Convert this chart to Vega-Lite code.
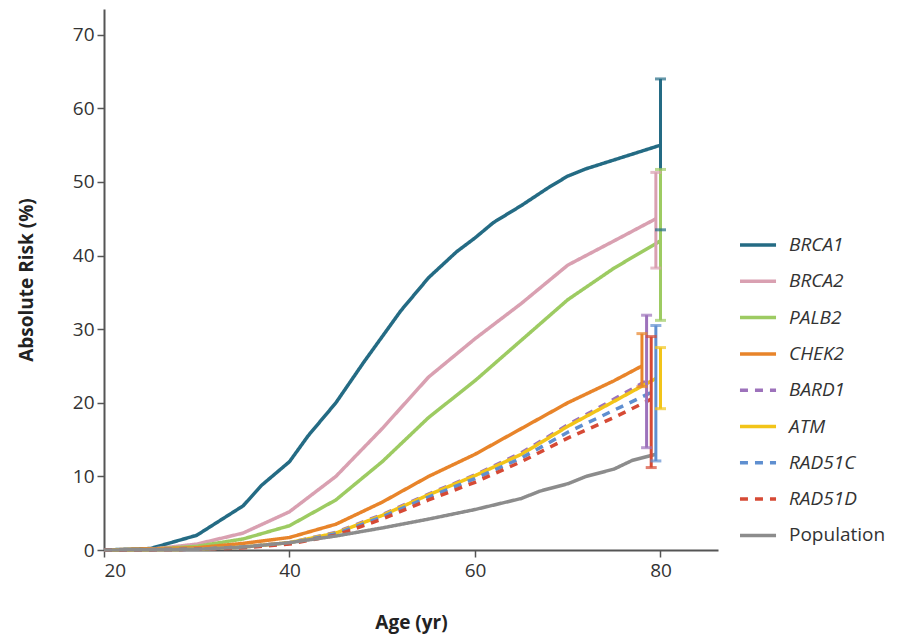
{
  "$schema": "https://vega.github.io/schema/vega-lite/v6.json",
  "width": 614,
  "height": 541,
  "autosize": {"type": "none"},
  "padding": {"left": 104, "top": 9, "right": 182, "bottom": 89},
  "background": "white",
  "config": {
    "view": {"stroke": null},
    "font": "Open Sans",
    "axis": {"grid": false, "domainColor": "#555555", "domainWidth": 2, "tickColor": "#555555", "tickWidth": 1.5, "tickSize": 7, "labelFontSize": 19, "labelColor": "#333333", "titleFontSize": 19, "titleColor": "#222222", "titleFontWeight": "bold"}
  },
  "datasets": {
    "curves": [
      {"gene": "BRCA1", "age": 20, "risk": 0}, {"gene": "BRCA1", "age": 25, "risk": 0.2}, {"gene": "BRCA1", "age": 30, "risk": 2}, {"gene": "BRCA1", "age": 35, "risk": 6}, {"gene": "BRCA1", "age": 37, "risk": 8.8}, {"gene": "BRCA1", "age": 40, "risk": 12}, {"gene": "BRCA1", "age": 42, "risk": 15.5}, {"gene": "BRCA1", "age": 45, "risk": 20}, {"gene": "BRCA1", "age": 48, "risk": 25.5}, {"gene": "BRCA1", "age": 50, "risk": 29}, {"gene": "BRCA1", "age": 52, "risk": 32.5}, {"gene": "BRCA1", "age": 55, "risk": 37}, {"gene": "BRCA1", "age": 58, "risk": 40.5}, {"gene": "BRCA1", "age": 60, "risk": 42.4}, {"gene": "BRCA1", "age": 62, "risk": 44.5}, {"gene": "BRCA1", "age": 65, "risk": 46.8}, {"gene": "BRCA1", "age": 68, "risk": 49.3}, {"gene": "BRCA1", "age": 70, "risk": 50.8}, {"gene": "BRCA1", "age": 72, "risk": 51.8}, {"gene": "BRCA1", "age": 75, "risk": 53}, {"gene": "BRCA1", "age": 78, "risk": 54.2}, {"gene": "BRCA1", "age": 80, "risk": 55},
      {"gene": "BRCA2", "age": 20, "risk": 0}, {"gene": "BRCA2", "age": 25, "risk": 0.1}, {"gene": "BRCA2", "age": 30, "risk": 0.8}, {"gene": "BRCA2", "age": 35, "risk": 2.3}, {"gene": "BRCA2", "age": 40, "risk": 5.2}, {"gene": "BRCA2", "age": 45, "risk": 10}, {"gene": "BRCA2", "age": 50, "risk": 16.5}, {"gene": "BRCA2", "age": 55, "risk": 23.5}, {"gene": "BRCA2", "age": 60, "risk": 28.7}, {"gene": "BRCA2", "age": 65, "risk": 33.5}, {"gene": "BRCA2", "age": 70, "risk": 38.7}, {"gene": "BRCA2", "age": 75, "risk": 42}, {"gene": "BRCA2", "age": 79.5, "risk": 45},
      {"gene": "PALB2", "age": 20, "risk": 0}, {"gene": "PALB2", "age": 25, "risk": 0.1}, {"gene": "PALB2", "age": 30, "risk": 0.5}, {"gene": "PALB2", "age": 35, "risk": 1.5}, {"gene": "PALB2", "age": 40, "risk": 3.3}, {"gene": "PALB2", "age": 45, "risk": 6.8}, {"gene": "PALB2", "age": 50, "risk": 12}, {"gene": "PALB2", "age": 55, "risk": 18}, {"gene": "PALB2", "age": 60, "risk": 23}, {"gene": "PALB2", "age": 65, "risk": 28.5}, {"gene": "PALB2", "age": 70, "risk": 34}, {"gene": "PALB2", "age": 75, "risk": 38.3}, {"gene": "PALB2", "age": 80, "risk": 42},
      {"gene": "CHEK2", "age": 20, "risk": 0}, {"gene": "CHEK2", "age": 30, "risk": 0.3}, {"gene": "CHEK2", "age": 35, "risk": 0.9}, {"gene": "CHEK2", "age": 40, "risk": 1.7}, {"gene": "CHEK2", "age": 45, "risk": 3.5}, {"gene": "CHEK2", "age": 50, "risk": 6.5}, {"gene": "CHEK2", "age": 55, "risk": 10}, {"gene": "CHEK2", "age": 60, "risk": 13}, {"gene": "CHEK2", "age": 65, "risk": 16.5}, {"gene": "CHEK2", "age": 70, "risk": 20}, {"gene": "CHEK2", "age": 75, "risk": 23}, {"gene": "CHEK2", "age": 78, "risk": 25},
      {"gene": "BARD1", "age": 20, "risk": 0}, {"gene": "BARD1", "age": 30, "risk": 0.1}, {"gene": "BARD1", "age": 35, "risk": 0.4}, {"gene": "BARD1", "age": 40, "risk": 1.0}, {"gene": "BARD1", "age": 45, "risk": 2.4}, {"gene": "BARD1", "age": 50, "risk": 4.8}, {"gene": "BARD1", "age": 55, "risk": 7.6}, {"gene": "BARD1", "age": 60, "risk": 10.2}, {"gene": "BARD1", "age": 65, "risk": 13.2}, {"gene": "BARD1", "age": 70, "risk": 17}, {"gene": "BARD1", "age": 75, "risk": 20.5}, {"gene": "BARD1", "age": 78.5, "risk": 23},
      {"gene": "ATM", "age": 20, "risk": 0}, {"gene": "ATM", "age": 30, "risk": 0.1}, {"gene": "ATM", "age": 35, "risk": 0.4}, {"gene": "ATM", "age": 40, "risk": 1.0}, {"gene": "ATM", "age": 45, "risk": 2.3}, {"gene": "ATM", "age": 50, "risk": 4.7}, {"gene": "ATM", "age": 55, "risk": 7.5}, {"gene": "ATM", "age": 60, "risk": 10.1}, {"gene": "ATM", "age": 65, "risk": 13}, {"gene": "ATM", "age": 70, "risk": 16.8}, {"gene": "ATM", "age": 75, "risk": 20.2}, {"gene": "ATM", "age": 79.5, "risk": 23.3},
      {"gene": "RAD51C", "age": 20, "risk": 0}, {"gene": "RAD51C", "age": 30, "risk": 0.1}, {"gene": "RAD51C", "age": 35, "risk": 0.4}, {"gene": "RAD51C", "age": 40, "risk": 0.9}, {"gene": "RAD51C", "age": 45, "risk": 2.2}, {"gene": "RAD51C", "age": 50, "risk": 4.5}, {"gene": "RAD51C", "age": 55, "risk": 7.2}, {"gene": "RAD51C", "age": 60, "risk": 9.7}, {"gene": "RAD51C", "age": 65, "risk": 12.5}, {"gene": "RAD51C", "age": 70, "risk": 16}, {"gene": "RAD51C", "age": 75, "risk": 19}, {"gene": "RAD51C", "age": 79.5, "risk": 21.7},
      {"gene": "RAD51D", "age": 20, "risk": 0}, {"gene": "RAD51D", "age": 30, "risk": 0.1}, {"gene": "RAD51D", "age": 35, "risk": 0.3}, {"gene": "RAD51D", "age": 40, "risk": 0.8}, {"gene": "RAD51D", "age": 45, "risk": 2.0}, {"gene": "RAD51D", "age": 50, "risk": 4.2}, {"gene": "RAD51D", "age": 55, "risk": 6.8}, {"gene": "RAD51D", "age": 60, "risk": 9.2}, {"gene": "RAD51D", "age": 65, "risk": 12}, {"gene": "RAD51D", "age": 70, "risk": 15.2}, {"gene": "RAD51D", "age": 75, "risk": 18}, {"gene": "RAD51D", "age": 79, "risk": 20.5},
      {"gene": "Population", "age": 20, "risk": 0}, {"gene": "Population", "age": 30, "risk": 0.1}, {"gene": "Population", "age": 35, "risk": 0.4}, {"gene": "Population", "age": 40, "risk": 1.0}, {"gene": "Population", "age": 45, "risk": 1.9}, {"gene": "Population", "age": 50, "risk": 3.0}, {"gene": "Population", "age": 55, "risk": 4.2}, {"gene": "Population", "age": 60, "risk": 5.5}, {"gene": "Population", "age": 65, "risk": 7}, {"gene": "Population", "age": 67, "risk": 8}, {"gene": "Population", "age": 70, "risk": 9}, {"gene": "Population", "age": 72, "risk": 10}, {"gene": "Population", "age": 75, "risk": 11}, {"gene": "Population", "age": 77, "risk": 12.2}, {"gene": "Population", "age": 79.5, "risk": 13}
    ],
    "intervals": [
      {"gene": "BRCA1", "bar_age": 80, "lo": 43.5, "hi": 64},
      {"gene": "BRCA2", "bar_age": 79.5, "lo": 38.3, "hi": 51.3},
      {"gene": "PALB2", "bar_age": 80, "lo": 31.2, "hi": 51.7},
      {"gene": "CHEK2", "bar_age": 78, "lo": 22.2, "hi": 29.4},
      {"gene": "BARD1", "bar_age": 78.5, "lo": 13.9, "hi": 31.9},
      {"gene": "ATM", "bar_age": 80, "lo": 19.2, "hi": 27.5},
      {"gene": "RAD51C", "bar_age": 79.5, "lo": 12.1, "hi": 30.5},
      {"gene": "RAD51D", "bar_age": 79, "lo": 11.2, "hi": 29.0}
    ]
  },
  "layer": [
    {
      "data": {"name": "curves"},
      "mark": {"type": "line", "strokeWidth": 3.5},
      "encoding": {
        "x": {"field": "age", "type": "quantitative", "scale": {"domain": [20, 86.2], "nice": false}, "axis": {"values": [20, 40, 60, 80], "title": "Age (yr)", "titlePadding": 33, "labelPadding": 4}},
        "y": {"field": "risk", "type": "quantitative", "scale": {"domain": [0, 73.5], "nice": false}, "axis": {"values": [0, 10, 20, 30, 40, 50, 60, 70], "title": "Absolute Risk (%)", "titlePadding": 36, "labelPadding": 3}},
        "color": {"field": "gene", "type": "nominal",
          "scale": {"domain": ["BRCA1", "BRCA2", "PALB2", "CHEK2", "BARD1", "ATM", "RAD51C", "RAD51D", "Population"], "range": ["#246b84", "#d9a0b1", "#9dcb62", "#e8842a", "#9d72bb", "#f2c419", "#5f8fd0", "#d64a35", "#8c8c8c"]},
          "legend": {"title": null, "orient": "none", "legendX": 634, "legendY": 216, "symbolType": "stroke", "symbolSize": 1300, "symbolStrokeWidth": 3.5, "labelFontSize": 19, "labelColor": "#333333", "rowPadding": 6.3, "labelOffset": 11,
            "encode": {"labels": {"update": {"fontStyle": {"signal": "datum.label == 'Population' ? 'normal' : 'italic'"}}}}}},
        "strokeDash": {"field": "gene", "type": "nominal",
          "scale": {"domain": ["BRCA1", "BRCA2", "PALB2", "CHEK2", "BARD1", "ATM", "RAD51C", "RAD51D", "Population"], "range": [[1, 0], [1, 0], [1, 0], [1, 0], [8, 7], [1, 0], [8, 7], [8, 7], [1, 0]]}},
        "order": {"field": "age", "type": "quantitative"}
      }
    },
    {
      "data": {"name": "intervals"},
      "mark": {"type": "rule", "strokeWidth": 3},
      "encoding": {
        "x": {"field": "bar_age", "type": "quantitative"},
        "y": {"field": "lo", "type": "quantitative"},
        "y2": {"field": "hi"},
        "color": {"field": "gene", "type": "nominal", "legend": null}
      }
    },
    {
      "data": {"name": "intervals"},
      "mark": {"type": "tick", "orient": "horizontal", "size": 11, "thickness": 3},
      "encoding": {
        "x": {"field": "bar_age", "type": "quantitative"},
        "y": {"field": "lo", "type": "quantitative"},
        "color": {"field": "gene", "type": "nominal", "legend": null}
      }
    },
    {
      "data": {"name": "intervals"},
      "mark": {"type": "tick", "orient": "horizontal", "size": 11, "thickness": 3},
      "encoding": {
        "x": {"field": "bar_age", "type": "quantitative"},
        "y": {"field": "hi", "type": "quantitative"},
        "color": {"field": "gene", "type": "nominal", "legend": null}
      }
    }
  ]
}
